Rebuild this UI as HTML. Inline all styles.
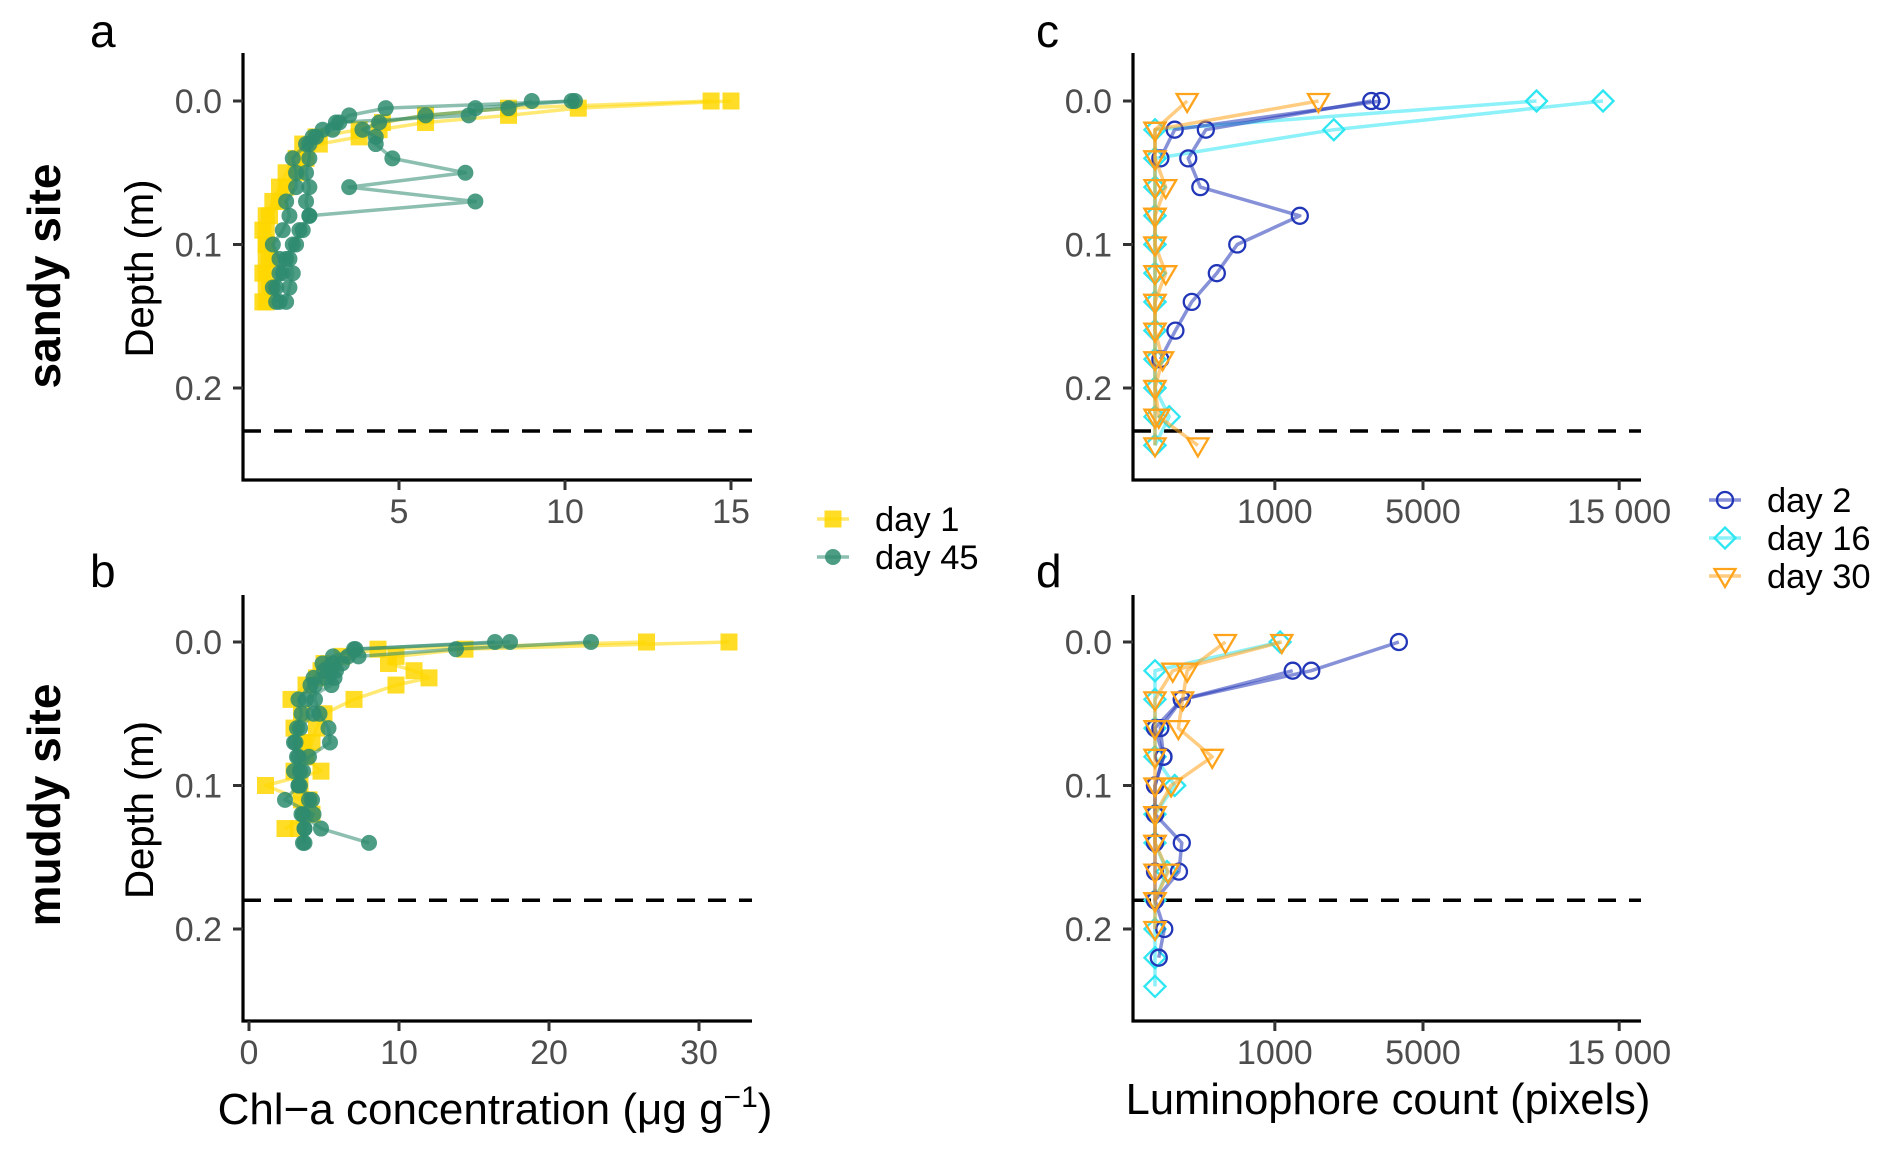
<!DOCTYPE html>
<html><head><meta charset="utf-8"><style>
html,body{margin:0;padding:0;background:#fff;}
svg{display:block;font-family:"Liberation Sans",sans-serif;}
</style></head><body>
<svg id="fig" width="1892" height="1155" viewBox="0 0 1892 1155" xmlns="http://www.w3.org/2000/svg"></svg>
<script>
// ---- data ----
const depthsA = [0,0.005,0.01,0.015,0.02,0.025,0.03,0.04,0.05,0.06,0.07,0.08,0.09,0.10,0.11,0.12,0.13,0.14];
const aDay1r1 = [15,10.4,8.3,5.8,4.4,3.8,2.6,2.2,1.9,1.6,1.4,1.1,0.9,1.0,1.0,0.9,1.1,1.0];
const aDay1r2 = [14.4,8.3,5.8,4.5,3.8,2.5,2.1,1.9,1.6,1.4,1.2,1.0,1.0,1.0,1.1,1.0,1.0,0.9];
const aDay45r1 = [10.3,4.6,3.5,3.2,3.0,2.4,2.3,2.3,2.2,2.3,2.2,2.3,2.0,1.9,1.7,1.8,1.7,1.6];
const aDay45r2 = [9.0,8.3,5.8,4.4,3.9,4.3,4.3,4.8,7.0,3.5,7.3,2.3,2.1,1.8,1.6,1.5,1.3,1.4];
const aDay45r3 = [10.2,7.3,7.1,3.1,2.7,2.5,2.2,1.8,1.9,1.9,1.6,1.7,1.5,1.2,1.4,1.4,1.2,1.3];

const depthsB1 = [0,0.005,0.01,0.015,0.02,0.025,0.03,0.04,0.05,0.06,0.07,0.08,0.09,0.10,0.11,0.12,0.13];
const depthsB45 = [0,0.005,0.01,0.015,0.02,0.025,0.03,0.04,0.05,0.06,0.07,0.08,0.09,0.10,0.11,0.12,0.13,0.14];
const bDay1r1 = [32.0,14.4,9.8,9.3,11.0,12.0,9.8,7.0,5.0,4.5,4.2,3.8,4.8,1.1,3.5,4.2,2.4];
const bDay1r2 = [26.5,8.6,6.2,5.0,4.8,4.5,3.8,2.8,3.5,3.0,3.6,3.8,3.0,3.4,4.0,3.8,3.3];
const bDay45r1 = [22.8,13.8,7.3,5.6,5.0,4.3,4.1,3.3,3.5,3.2,3.0,3.2,3.0,3.3,4.0,3.5,4.8,8.0];
const bDay45r2 = [17.4,7.0,6.6,6.2,5.5,5.1,4.4,4.4,4.7,5.3,5.4,4.0,3.4,3.3,2.4,4.3,3.7,3.7];
const bDay45r3 = [16.4,7.1,5.6,4.9,5.8,5.7,5.5,3.8,4.3,3.4,3.1,3.3,3.6,3.4,4.2,3.6,3.7,3.6];

const depthsL = [0,0.02,0.04,0.06,0.08,0.10,0.12,0.14,0.16,0.18,0.20,0.22,0.24];
const cDay2r1 = [3257,180,77,143,1460,471,266,94,29,2];
const cDay2r2 = [3555,27,2];
const cDay16r1 = [13973,2225,0,0,0,0,0,0,0,0,0,0,0];
const cDay16r2 = [10132,0,0,0,0,0,0,0,0,0,0,14,0];
const cDay30r1 = [72,0,0,8,0,0,8,0,0,4,0,1,128];
const cDay30r2 = [1860,0,0,0,0,0,0,0,0,0,0,0,0];

const dDay2r1 = [4140,1700,50,2,5,0,0,50,40,0,6,1];
const dDay2r2 = [null,1320,50,0,5,0,0,0,0,0];
const dDay16r1 = [1090,0,0,0,0,27,0,0,10,0,0,0,0];
const dDay30r1 = [345,72,53,38,228,18,0,0,0,0,0];
const dDay30r2 = [1120,22,0,0,0,0,0,0,12,0];

const tickDepth = [0.0,0.1,0.2];
const tickA = [5,10,15];
const tickB = [0,10,20,30];
const tickL = [1000,5000,15000];
const tickLLabels = ["1000","5000","15 000"];

// ---- helpers ----
const svg = document.getElementById('fig');
const NS = 'http://www.w3.org/2000/svg';
function mk(tag, attrs, parent){const e=document.createElementNS(NS,tag);for(const k in attrs)e.setAttribute(k,attrs[k]);(parent||svg).appendChild(e);return e;}

const YELLOW='#FFD700', GREEN='#2E8B6E', BLUE='#2236B8', CYAN='#2EE6F2', ORANGE='#FFA31A';

function panel(p){
  const g=mk('g',{});
  
  
  const y=d=>p.y0+d*p.ypx;
  p.yf=y;
  const dl=mk('line',{x1:p.ax,x2:p.right,y1:y(p.dash),y2:y(p.dash),stroke:'#000','stroke-width':3.5,'stroke-dasharray':'18,13'},g);
  
  
  const ya=mk('line',{x1:p.ax,x2:p.ax,y1:p.top,y2:p.bottom+1.5,stroke:'#000','stroke-width':3.2},g);
  
  
  const xa=mk('line',{x1:p.ax-1.5,x2:p.right,y1:p.bottom,y2:p.bottom,stroke:'#000','stroke-width':3.2},g);
  
  
  tickDepth.forEach(d=>{
    mk('line',{x1:p.ax-10,x2:p.ax,y1:y(d),y2:y(d),stroke:'#333','stroke-width':3},g);
    const t=mk('text',{x:p.ax-21,y:y(d)+12,'text-anchor':'end','font-size':34,fill:'#4d4d4d'},g);
    t.textContent=d.toFixed(1);
    
    
  });
  p.xticks.forEach((v,i)=>{
    const x=p.xf(v);
    mk('line',{x1:x,x2:x,y1:p.bottom,y2:p.bottom+10,stroke:'#333','stroke-width':3},g);
    const t=mk('text',{x:x,y:p.bottom+43,'text-anchor':'middle','font-size':34,fill:'#4d4d4d'},g);
    t.textContent=p.xlabels?p.xlabels[i]:String(v);
    
    
  });
  const yt=mk('text',{x:0,y:0,'font-size':40,fill:'#000','text-anchor':'middle',transform:`translate(153,${(p.top+p.bottom)/2+2}) rotate(-90)`},g);
  yt.textContent='Depth (m)';
  
  
  const lt=mk('text',{x:p.letterX,y:p.letterY,'font-size':46,fill:'#000'},g);
  lt.textContent=p.letter;
  
  
  return g;
}
function marker(g,shape,x,y,col){
  let e;
  if(shape==='square') e=mk('rect',{x:x-8.5,y:y-8.5,width:17,height:17,fill:col,'fill-opacity':0.85},g);
  else if(shape==='dot') e=mk('circle',{cx:x,cy:y,r:8,fill:col,'fill-opacity':0.85},g);
  else if(shape==='circle') e=mk('circle',{cx:x,cy:y,r:8,fill:'none',stroke:col,'stroke-width':2.3},g);
  else if(shape==='diamond') e=mk('polygon',{points:`${x},${y-10.5} ${x+10.5},${y} ${x},${y+10.5} ${x-10.5},${y}`,fill:'none',stroke:col,'stroke-width':2.3},g);
  else e=mk('polygon',{points:`${x-10.5},${y-7} ${x+10.5},${y-7} ${x},${y+11}`,fill:'none',stroke:col,'stroke-width':2.3},g);
  return e;
}
function series(p,g,depths,vals,col,shape,name){
  const pts=[];
  vals.forEach((v,i)=>{if(v!==null&&v!==undefined)pts.push([p.xf(v),p.yf(depths[i])]);});
  const sg=mk('g',{},g);
  
  
  const l=mk('polyline',{points:pts.map(q=>q.join(',')).join(' '),fill:'none',stroke:col,'stroke-width':3.5,'stroke-opacity':0.55,'stroke-linejoin':'round'},sg);
  
  
  pts.forEach(q=>{
    const m=marker(sg,shape,q[0],q[1],col);
    
    
  });
}

const sq=v=>Math.sqrt(Math.max(v,0));
const pa={name:'panel-a',ax:243,right:752,top:53,bottom:480,y0:101,ypx:1435,dash:0.23,xticks:tickA,xf:v=>233+v*33.2,letter:'a',letterX:90,letterY:47};
const pb={name:'panel-b',ax:243,right:752,top:595,bottom:1021,y0:642,ypx:1435,dash:0.18,xticks:tickB,xf:v=>249+v*15,letter:'b',letterX:90,letterY:587};
const pc={name:'panel-c',ax:1133,right:1641,top:53,bottom:480,y0:101,ypx:1435,dash:0.23,xticks:tickL,xlabels:tickLLabels,xf:v=>1155+sq(v)*3.79,letter:'c',letterX:1036,letterY:47};
const pd={name:'panel-d',ax:1133,right:1641,top:595,bottom:1021,y0:642,ypx:1435,dash:0.18,xticks:tickL,xlabels:tickLLabels,xf:v=>1155+sq(v)*3.79,letter:'d',letterX:1036,letterY:587};

let g=panel(pa);
series(pa,g,depthsA,aDay1r1,YELLOW,'square','day1-rep1');
series(pa,g,depthsA,aDay1r2,YELLOW,'square','day1-rep2');
series(pa,g,depthsA,aDay45r1,GREEN,'dot','day45-rep1');
series(pa,g,depthsA,aDay45r2,GREEN,'dot','day45-rep2');
series(pa,g,depthsA,aDay45r3,GREEN,'dot','day45-rep3');

g=panel(pb);
series(pb,g,depthsB1,bDay1r1,YELLOW,'square','day1-rep1');
series(pb,g,depthsB1,bDay1r2,YELLOW,'square','day1-rep2');
series(pb,g,depthsB45,bDay45r1,GREEN,'dot','day45-rep1');
series(pb,g,depthsB45,bDay45r2,GREEN,'dot','day45-rep2');
series(pb,g,depthsB45,bDay45r3,GREEN,'dot','day45-rep3');

g=panel(pc);
series(pc,g,depthsL,cDay16r1,CYAN,'diamond','day16-rep1');
series(pc,g,depthsL,cDay16r2,CYAN,'diamond','day16-rep2');
series(pc,g,depthsL,cDay2r1,BLUE,'circle','day2-rep1');
series(pc,g,depthsL,cDay2r2,BLUE,'circle','day2-rep2');
series(pc,g,depthsL,cDay30r1,ORANGE,'tri','day30-rep1');
series(pc,g,depthsL,cDay30r2,ORANGE,'tri','day30-rep2');

g=panel(pd);
series(pd,g,depthsL,dDay16r1,CYAN,'diamond','day16-rep1');
series(pd,g,depthsL,dDay2r1,BLUE,'circle','day2-rep1');
series(pd,g,depthsL,dDay2r2,BLUE,'circle','day2-rep2');
series(pd,g,depthsL,dDay30r1,ORANGE,'tri','day30-rep1');
series(pd,g,depthsL,dDay30r2,ORANGE,'tri','day30-rep2');

function txt(x,y,s,attrs,name){const t=mk('text',Object.assign({x:x,y:y,fill:'#000'},attrs));t.textContent=s;return t;}
txt(0,0,'sandy site',{'font-size':46,'font-weight':'bold','text-anchor':'middle',transform:'translate(60,276) rotate(-90)'},'row-title-sandy');
txt(0,0,'muddy site',{'font-size':46,'font-weight':'bold','text-anchor':'middle',transform:'translate(60,805) rotate(-90)'},'row-title-muddy');

const xt=mk('text',{x:495,y:1124,'font-size':44,'text-anchor':'middle',fill:'#000'});


xt.innerHTML='Chl−a concentration (μg g<tspan dy="-17" font-size="30">−1</tspan><tspan dy="17">)</tspan>';
txt(1388,1114,'Luminophore count (pixels)',{'font-size':43.5,'text-anchor':'middle'},'x-axis-title-luminophore');

function legend(items,x,y0,dy,name){
  const lg=mk('g',{});
  
  
  items.forEach((it,i)=>{
    const y=y0+i*dy;
    const e=mk('g',{},lg);
    
    
    mk('line',{x1:x-16,x2:x+16,y1:y,y2:y,stroke:it[1],'stroke-width':3.5,'stroke-opacity':0.55},e);
    marker(e,it[2],x,y,it[1]);
    const t=mk('text',{x:x+42,y:y+12,'font-size':34.5,fill:'#000'},e);
    t.textContent=it[0];
  });
}
legend([['day 1',YELLOW,'square'],['day 45',GREEN,'dot']],833,519,38,'legend-chla');
legend([['day 2',BLUE,'circle'],['day 16',CYAN,'diamond'],['day 30',ORANGE,'tri']],1725,500,38,'legend-luminophore');
</script>
</body></html>
